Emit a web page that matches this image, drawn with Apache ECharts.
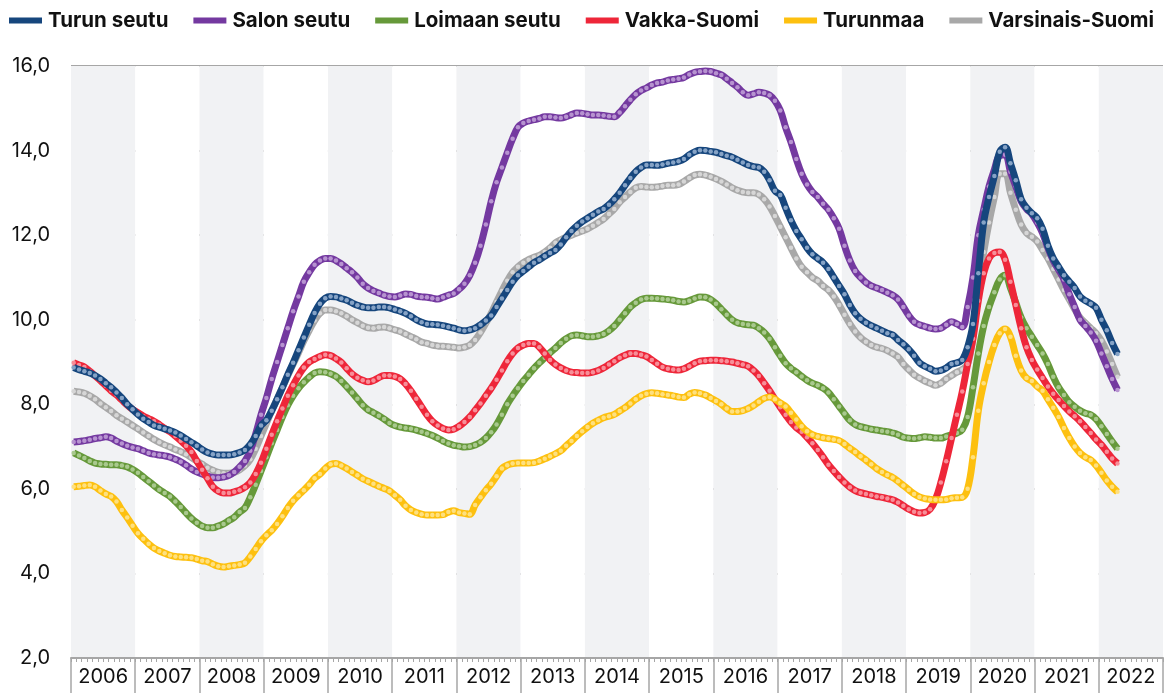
<!DOCTYPE html>
<html>
<head>
<meta charset="utf-8">
<script src="https://cdn.jsdelivr.net/npm/echarts@6/dist/echarts.min.js"></script>
<style>
  html, body { margin: 0; padding: 0; background: #fff; }
  #chart { width: 1165px; height: 693px; }
</style>
</head>
<body>
<div id="chart"></div>
<script>
const years = ['2006', '2007', '2008', '2009', '2010', '2011', '2012', '2013', '2014',
  '2015', '2016', '2017', '2018', '2019', '2020', '2021', '2022']
const yTicks = [2, 4, 6, 8, 10, 12, 14, 16]

// monthly values, Jan 2006 - Apr 2022, one row per year
const turunSeutu = [
  8.87, 8.82, 8.78, 8.74, 8.68, 8.6, 8.5, 8.4, 8.28, 8.15, 8.0, 7.88,
  7.76, 7.66, 7.58, 7.5, 7.46, 7.42, 7.38, 7.33, 7.26, 7.18, 7.1, 7.02,
  6.93, 6.86, 6.82, 6.8, 6.8, 6.8, 6.82, 6.86, 6.92, 7.05, 7.25, 7.5,
  7.62, 7.85, 8.12, 8.4, 8.7, 8.98, 9.28, 9.58, 9.88, 10.16, 10.38, 10.51,
  10.55, 10.54, 10.5, 10.46, 10.4, 10.34, 10.3, 10.28, 10.28, 10.3, 10.3, 10.28,
  10.24, 10.2, 10.15, 10.08, 10.0, 9.94, 9.9, 9.89, 9.88, 9.86, 9.83, 9.8,
  9.76, 9.74, 9.76, 9.8, 9.88, 9.98, 10.1, 10.3, 10.5, 10.7, 10.9, 11.05,
  11.15, 11.25, 11.35, 11.42, 11.5, 11.58, 11.65, 11.78, 11.95, 12.1, 12.22, 12.32,
  12.4, 12.48, 12.56, 12.62, 12.72, 12.85, 13.0, 13.18, 13.35, 13.5, 13.6, 13.66,
  13.66, 13.65, 13.67, 13.7, 13.72, 13.75, 13.8, 13.9, 13.97, 14.01, 14.0, 13.98,
  13.96, 13.92, 13.88, 13.84, 13.78, 13.72, 13.66, 13.62, 13.6, 13.5, 13.3, 13.05,
  12.95, 12.65, 12.35, 12.1, 11.9, 11.7, 11.55, 11.45, 11.35, 11.2, 11.0, 10.8,
  10.6, 10.35, 10.15, 10.02, 9.93, 9.86, 9.8, 9.74, 9.68, 9.64, 9.52, 9.42,
  9.3, 9.15, 8.98, 8.9, 8.84, 8.78, 8.8, 8.86, 8.95, 8.98, 9.05, 9.35,
  9.9, 11.1, 12.3, 12.9, 13.4, 13.97, 14.08, 13.7, 13.3, 12.85, 12.65, 12.52,
  12.4, 12.15, 11.75, 11.45, 11.25, 11.05, 10.9, 10.75, 10.55, 10.45, 10.38, 10.28,
  10.0, 9.75, 9.45, 9.19
]
const salonSeutu = [
  7.11, 7.12, 7.14, 7.16, 7.19, 7.21, 7.23, 7.2, 7.13, 7.07, 7.02, 6.98,
  6.95, 6.9, 6.85, 6.82, 6.8, 6.78, 6.75, 6.7, 6.64, 6.56, 6.47, 6.4,
  6.35, 6.3, 6.27, 6.26, 6.28, 6.32, 6.4, 6.52, 6.66, 6.9, 7.3, 7.75,
  8.15, 8.6, 9.0, 9.4, 9.8, 10.2, 10.55, 10.9, 11.12, 11.3, 11.4, 11.45,
  11.45, 11.4, 11.32, 11.22, 11.12, 11.0, 10.85, 10.75, 10.68, 10.63, 10.58, 10.55,
  10.54, 10.57, 10.61, 10.6, 10.56, 10.54, 10.53, 10.51, 10.49, 10.53, 10.58, 10.62,
  10.72, 10.85, 11.05, 11.35, 11.75, 12.25, 12.8, 13.25, 13.6, 13.95, 14.28, 14.55,
  14.65, 14.7, 14.73, 14.76, 14.8, 14.8, 14.78, 14.77, 14.8, 14.85, 14.89, 14.88,
  14.86, 14.84, 14.84, 14.83, 14.81, 14.8, 14.9, 15.05, 15.2, 15.33, 15.42, 15.48,
  15.55, 15.6, 15.62, 15.66, 15.68, 15.7, 15.73, 15.8, 15.85, 15.87, 15.88, 15.87,
  15.83, 15.79, 15.7, 15.6, 15.5, 15.38, 15.31, 15.34, 15.38, 15.36, 15.31, 15.18,
  14.95, 14.55, 14.2, 13.8, 13.45, 13.2, 13.02, 12.9, 12.74, 12.6, 12.4, 12.15,
  11.75, 11.4, 11.15, 11.0, 10.88, 10.8, 10.75, 10.7, 10.64, 10.58, 10.48, 10.3,
  10.1, 9.95, 9.88, 9.84, 9.8, 9.78, 9.8, 9.88, 9.95, 9.9, 9.83, 10.3,
  11.0, 12.0, 12.6, 13.15, 13.55, 13.88, 13.9, 13.5, 13.15, 12.8, 12.62, 12.5,
  12.3, 12.05, 11.7, 11.4, 11.18, 10.95, 10.6, 10.3, 10.0, 9.85, 9.7, 9.5,
  9.2, 8.9, 8.6, 8.34
]
const loimaanSeutu = [
  6.85, 6.79, 6.73, 6.66, 6.61, 6.59, 6.58, 6.57, 6.57, 6.55, 6.52, 6.46,
  6.38, 6.28, 6.18, 6.08, 5.98, 5.9, 5.82, 5.7, 5.57, 5.43, 5.3, 5.2,
  5.12, 5.08, 5.08, 5.12, 5.17, 5.25, 5.33, 5.45, 5.55, 5.8, 6.1, 6.42,
  6.75, 7.08, 7.39, 7.7, 7.98, 8.2, 8.38, 8.52, 8.64, 8.74, 8.77, 8.76,
  8.72, 8.66, 8.55, 8.42, 8.28, 8.13, 7.98, 7.87, 7.8, 7.73, 7.65, 7.56,
  7.5, 7.46, 7.44, 7.42, 7.39, 7.35, 7.31, 7.26, 7.2, 7.13, 7.07, 7.03,
  7.01, 6.99, 7.0, 7.04, 7.1, 7.2, 7.34, 7.52, 7.75, 8.0, 8.2, 8.38,
  8.55, 8.7, 8.85, 8.98, 9.1, 9.22, 9.33, 9.45, 9.55, 9.62, 9.64, 9.62,
  9.6, 9.6, 9.62, 9.66, 9.74, 9.85, 10.0, 10.15, 10.3, 10.4, 10.48, 10.51,
  10.51, 10.5, 10.49, 10.48, 10.46, 10.43, 10.42, 10.45, 10.5, 10.54, 10.53, 10.48,
  10.38, 10.25, 10.12, 10.0, 9.93, 9.9, 9.88, 9.87, 9.8, 9.7, 9.55, 9.35,
  9.15, 8.97, 8.85, 8.76, 8.66, 8.57, 8.5, 8.45, 8.38, 8.28, 8.12, 7.95,
  7.78, 7.62, 7.52, 7.47, 7.44, 7.41, 7.39, 7.37, 7.35, 7.32, 7.28, 7.22,
  7.2, 7.19, 7.21, 7.23, 7.22, 7.2, 7.2, 7.24, 7.28, 7.32, 7.4, 7.7,
  8.4, 9.2, 9.85, 10.3, 10.65, 10.95, 11.05, 10.75, 10.4, 10.05, 9.8, 9.6,
  9.4, 9.2, 8.95, 8.65, 8.4, 8.22, 8.05, 7.94, 7.85, 7.79, 7.75, 7.65,
  7.48, 7.3, 7.12, 6.95
]
const vakkaSuomi = [
  8.98, 8.93, 8.88, 8.78, 8.67, 8.56, 8.44, 8.32, 8.22, 8.1, 7.98, 7.88,
  7.8, 7.72, 7.66, 7.6, 7.52, 7.43, 7.35, 7.25, 7.14, 7.02, 6.87, 6.66,
  6.45, 6.25, 6.05, 5.95, 5.9, 5.9, 5.93, 5.97, 6.04, 6.15, 6.35, 6.62,
  6.95, 7.28, 7.6, 7.9, 8.2, 8.45, 8.68, 8.87, 9.0, 9.07, 9.13, 9.17,
  9.15, 9.08, 8.99, 8.85, 8.72, 8.63, 8.57, 8.53, 8.56, 8.63, 8.68, 8.68,
  8.66, 8.6, 8.48, 8.32, 8.13, 7.94, 7.75, 7.6, 7.5, 7.43, 7.39, 7.41,
  7.48, 7.58, 7.7, 7.86, 8.02, 8.2, 8.38, 8.58, 8.8, 9.02, 9.2, 9.33,
  9.4, 9.44, 9.44, 9.35, 9.2, 9.05, 8.94, 8.86, 8.8, 8.76, 8.75, 8.74,
  8.74, 8.76, 8.8, 8.86, 8.94, 9.02, 9.1, 9.16, 9.2, 9.2, 9.17, 9.13,
  9.05, 8.96, 8.88, 8.84, 8.82, 8.81, 8.84, 8.9, 8.97, 9.02, 9.03, 9.04,
  9.04, 9.03, 9.02, 9.0, 8.97, 8.94, 8.9, 8.8, 8.67, 8.5, 8.32, 8.12,
  7.93, 7.75, 7.58, 7.45, 7.35, 7.22, 7.08, 6.92, 6.75, 6.57, 6.42, 6.28,
  6.15, 6.04, 5.96, 5.91, 5.88, 5.85, 5.82, 5.8, 5.77, 5.74, 5.68, 5.6,
  5.52, 5.46, 5.43, 5.44, 5.52, 5.75, 6.15, 6.65, 7.2, 7.75, 8.3, 8.95,
  9.55, 10.45, 11.1, 11.45, 11.58, 11.6, 11.42, 10.9, 10.35, 9.8, 9.35, 9.05,
  8.82, 8.62, 8.42, 8.25, 8.1, 7.96, 7.83, 7.72, 7.6, 7.46, 7.32, 7.17,
  7.04, 6.88, 6.72, 6.6
]
const turunmaa = [
  6.05, 6.06, 6.08, 6.09, 6.05, 5.96, 5.88, 5.82, 5.7, 5.5, 5.32, 5.13,
  4.95, 4.82, 4.7, 4.6, 4.53, 4.48, 4.43, 4.4, 4.39, 4.38, 4.37, 4.34,
  4.3, 4.28, 4.22, 4.17, 4.15, 4.17, 4.19, 4.21, 4.25, 4.4, 4.58, 4.76,
  4.9, 5.02, 5.17, 5.35, 5.55, 5.72, 5.85, 5.97, 6.1, 6.25, 6.35, 6.48,
  6.58, 6.6, 6.55, 6.48, 6.4, 6.32, 6.24, 6.18, 6.12, 6.06, 6.01, 5.95,
  5.85, 5.74, 5.6, 5.5, 5.44, 5.4, 5.38, 5.38, 5.38, 5.39, 5.45, 5.48,
  5.44, 5.42, 5.4, 5.62, 5.8, 5.97, 6.12, 6.3, 6.48, 6.56, 6.6, 6.61,
  6.61, 6.61, 6.62, 6.66, 6.71, 6.77, 6.83, 6.9, 7.02, 7.13, 7.25, 7.36,
  7.46, 7.55, 7.62, 7.68, 7.72, 7.76, 7.84, 7.92, 8.02, 8.12, 8.2, 8.25,
  8.27, 8.26, 8.24, 8.22, 8.2, 8.17, 8.16, 8.24, 8.28, 8.26, 8.22, 8.15,
  8.08, 8.0, 7.9, 7.83, 7.83, 7.85, 7.9, 7.97, 8.06, 8.14, 8.17, 8.12,
  8.03, 7.95, 7.8, 7.64, 7.48, 7.36, 7.28, 7.24, 7.21, 7.19, 7.17, 7.14,
  7.06, 6.96, 6.87, 6.77, 6.68, 6.58, 6.48, 6.4, 6.33, 6.27, 6.18, 6.08,
  5.98, 5.88, 5.81, 5.77, 5.75, 5.74, 5.74, 5.75, 5.78, 5.79, 5.8, 6.0,
  6.75, 7.85, 8.5, 9.0, 9.4, 9.68, 9.78, 9.6, 9.15, 8.8, 8.62, 8.55,
  8.42, 8.32, 8.12, 7.92, 7.7, 7.44, 7.2, 7.0, 6.85, 6.75, 6.68, 6.55,
  6.38, 6.2, 6.05, 5.93
]
const varsinaisSuomi = [
  8.31, 8.29, 8.26, 8.2, 8.12, 8.02, 7.93, 7.84, 7.74, 7.66, 7.58, 7.5,
  7.42, 7.33, 7.25, 7.17, 7.1, 7.04, 6.99, 6.93, 6.88, 6.82, 6.74, 6.66,
  6.58, 6.5, 6.44, 6.39, 6.37, 6.37, 6.39, 6.45, 6.55, 6.7, 6.95, 7.25,
  7.55, 7.85, 8.12, 8.4, 8.68, 8.95, 9.22, 9.5, 9.75, 9.98, 10.15, 10.23,
  10.23, 10.2, 10.15, 10.08, 10.0, 9.93, 9.86, 9.81, 9.8, 9.82, 9.83, 9.8,
  9.76, 9.72, 9.66, 9.6, 9.54, 9.47, 9.44, 9.4, 9.38, 9.37, 9.36, 9.35,
  9.33, 9.35, 9.4, 9.52, 9.7, 9.92, 10.15, 10.42, 10.68, 10.92, 11.12, 11.25,
  11.35, 11.42, 11.48, 11.52, 11.6, 11.7, 11.82, 11.89, 11.95, 12.0, 12.05, 12.1,
  12.15, 12.22, 12.3, 12.38, 12.5, 12.62, 12.78, 12.9, 13.02, 13.12, 13.15, 13.14,
  13.13, 13.14, 13.16, 13.18, 13.18, 13.2, 13.27, 13.35, 13.42, 13.44, 13.42, 13.38,
  13.33, 13.27, 13.2, 13.12, 13.06, 13.02, 13.0, 13.0, 12.96, 12.85, 12.68, 12.45,
  12.2, 11.95, 11.7, 11.45, 11.25, 11.12, 11.0, 10.92, 10.8, 10.7, 10.55, 10.35,
  10.12, 9.9, 9.72, 9.58, 9.48, 9.4, 9.35, 9.32, 9.27, 9.2, 9.12, 8.95,
  8.82, 8.7, 8.62, 8.55, 8.5, 8.45, 8.5, 8.6, 8.68, 8.76, 8.82, 8.95,
  9.6, 10.8, 11.6, 12.3, 12.9, 13.45, 13.45, 13.0, 12.6, 12.25, 12.05, 11.96,
  11.85, 11.65, 11.45, 11.2, 10.95, 10.7, 10.48, 10.25, 10.05, 9.92, 9.8, 9.68,
  9.5, 9.25, 8.95, 8.65
]

const fontFamily = 'Inter, Roboto, sans-serif'

// month categories across the whole axis (incl. months without data in 2022)
const months = []
years.forEach(y => {
  for (let m = 1; m <= 12; m++) months.push(y + '-' + m)
})

const pad = arr => arr.concat(new Array(months.length - arr.length).fill(null))

const seriesDefs = [
  { name: 'Turun seutu', data: turunSeutu, line: '#16467d', dot: '#86a3c6', z: 8 },
  { name: 'Salon seutu', data: salonSeutu, line: '#7439a0', dot: '#b793d0', z: 4 },
  { name: 'Loimaan seutu', data: loimaanSeutu, line: '#66993a', dot: '#a9c98e', z: 5 },
  { name: 'Vakka-Suomi', data: vakkaSuomi, line: '#ee2639', dot: '#f78e98', z: 6 },
  { name: 'Turunmaa', data: turunmaa, line: '#fdc00f', dot: '#fee07f', z: 7 },
  { name: 'Varsinais-Suomi', data: varsinaisSuomi, line: '#a8a8a8', dot: '#d6d6d6', z: 3 }
]

const chart = echarts.init(document.getElementById('chart'))

const option = {
  animation: false,
  textStyle: { fontFamily: fontFamily },
  legend: {
    left: 9,
    top: 10,
    width: 1160,
    padding: 0,
    itemWidth: 33,
    itemHeight: 6,
    itemGap: 25,
    icon: 'rect',
    textStyle: {
      fontSize: 20.5,
      fontWeight: 'bold',
      color: '#111',
      fontFamily: fontFamily,
      padding: [0, 0, 0, 1]
    },
    data: seriesDefs.map(s => ({ name: s.name, itemStyle: { color: s.line } }))
  },
  grid: {
    left: 71,
    right: 2,
    top: 66,
    bottom: 35
  },
  xAxis: [
    {
      type: 'category',
      data: months,
      boundaryGap: true,
      axisLine: { lineStyle: { color: '#a6a6a6', width: 2 } },
      axisTick: { show: true, interval: 0, length: 4, lineStyle: { color: '#a6a6a6', width: 1 } },
      axisLabel: { show: false },
      splitLine: { show: false }
    },
    {
      type: 'category',
      data: years,
      position: 'bottom',
      boundaryGap: true,
      axisLine: { show: false },
      axisTick: { show: true, interval: 0, length: 35, lineStyle: { color: '#a6a6a6', width: 1.5 } },
      axisLabel: { show: true, interval: 0, margin: 9, fontSize: 20, color: '#111', fontFamily: fontFamily },
      splitArea: { show: true, interval: 0, areaStyle: { color: ['#f1f2f4', '#ffffff'] } },
      splitLine: { show: false }
    }
  ],
  yAxis: {
    type: 'value',
    min: yTicks[0],
    max: yTicks[yTicks.length - 1],
    interval: 2,
    axisLine: { show: false },
    axisTick: { show: false },
    axisLabel: {
      margin: 21,
      fontSize: 20,
      color: '#111',
      fontFamily: fontFamily,
      formatter: v => v.toFixed(1).replace('.', ',')
    },
    splitLine: { lineStyle: { color: '#a6a6a6', width: 2 } }
  },
  series: seriesDefs.map(s => ({
    name: s.name,
    type: 'line',
    xAxisIndex: 0,
    data: pad(s.data),
    smooth: 0.4,
    z: s.z,
    symbol: 'circle',
    symbolSize: 4.5,
    showSymbol: true,
    showAllSymbol: true,
    connectNulls: false,
    lineStyle: { color: s.line, width: 7 },
    itemStyle: { color: s.dot, borderWidth: 0 },
    emphasis: { disabled: true }
  }))
}

chart.setOption(option)
</script>
</body>
</html>
